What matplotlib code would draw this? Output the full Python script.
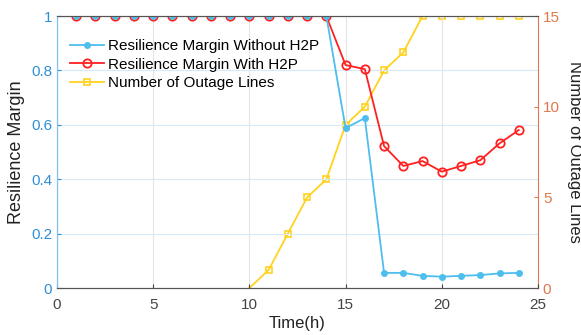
import matplotlib
matplotlib.use('Agg')
import matplotlib.pyplot as plt

plt.rcParams['font.family'] = ['Liberation Sans', 'DejaVu Sans']

hours = list(range(1, 25))
margin_without = [1] * 14 + [0.588, 0.625, 0.056, 0.056, 0.045, 0.042,
                             0.045, 0.048, 0.054, 0.056]
margin_with = [1] * 14 + [0.82, 0.805, 0.522, 0.449, 0.467, 0.428,
                          0.449, 0.47, 0.532, 0.581]
outage_hours = list(range(10, 25))
outage_lines = [0, 1, 3, 5, 6, 9, 10, 12, 13, 15, 15, 15, 15, 15, 15]

left_color = '#2f8fd8'
right_color = '#e0784a'

fig = plt.figure(figsize=(5.81, 3.35), dpi=100)
ax = fig.add_axes([0.098, 0.14, 0.828, 0.812])
ax2 = ax.twinx()

l2, = ax.plot(hours, margin_with, color='#ff2020', marker='o', markersize=6,
              markerfacecolor='none', markeredgewidth=1.3, linewidth=1.3,
              label='Resilience Margin With H2P')
l1, = ax.plot(hours, margin_without, color='#4dbeee', marker='o',
              markersize=4, linewidth=1.3, label='Resilience Margin Without H2P')
l3, = ax2.plot(outage_hours, outage_lines, color='#ffd21f', marker='s',
               markersize=5, markerfacecolor='none', markeredgewidth=1.2,
               linewidth=1.3, markevery=list(range(1, len(outage_hours))),
               label='Number of Outage Lines')
ax.set_zorder(ax2.get_zorder() + 1)
ax.patch.set_visible(False)

ax.set_xlim(0, 25)
ax.set_ylim(0, 1)
ax2.set_ylim(0, 15)
ax.set_xticks([0, 5, 10, 15, 20, 25])
ax.set_yticks([0, 0.2, 0.4, 0.6, 0.8, 1])
ax.set_yticklabels(['0', '0.2', '0.4', '0.6', '0.8', '1'])
ax2.set_yticks([0, 5, 10, 15])

ax.grid(True, axis='y', color='#d6e9f7', linewidth=0.8)
ax.grid(True, axis='x', color='#e4e4e4', linewidth=0.8)

ax.tick_params(axis='y', colors=left_color, labelsize=11, direction='in', length=3)
ax.tick_params(axis='x', colors='#444444', labelsize=11, direction='in',
               length=3, pad=7)
ax2.tick_params(axis='y', colors=right_color, labelsize=11, direction='in', length=3)
ax.spines['left'].set_color('#7ec0ee')
ax2.spines['left'].set_color('#7ec0ee')
ax2.spines['right'].set_color(right_color)
ax.spines['right'].set_visible(False)
for a in (ax, ax2):
    a.spines['top'].set_color('#555555')
    a.spines['bottom'].set_color('#555555')

ax.set_xlabel('Time(h)', fontsize=12, color='#222222', labelpad=3)
ax.set_ylabel('Resilience Margin', fontsize=13, color='#222222', labelpad=4)
ax2.set_ylabel('Number of Outage Lines', fontsize=12, color='#222222',
               rotation=270, labelpad=16)

ax.legend(handles=[l1, l2, l3], loc='upper left', bbox_to_anchor=(0.005, 0.955),
          frameon=False, fontsize=11, handlelength=2.2, labelspacing=0.3,
          borderaxespad=0.3, handletextpad=0.3)

fig.savefig('out.png', dpi=100)
